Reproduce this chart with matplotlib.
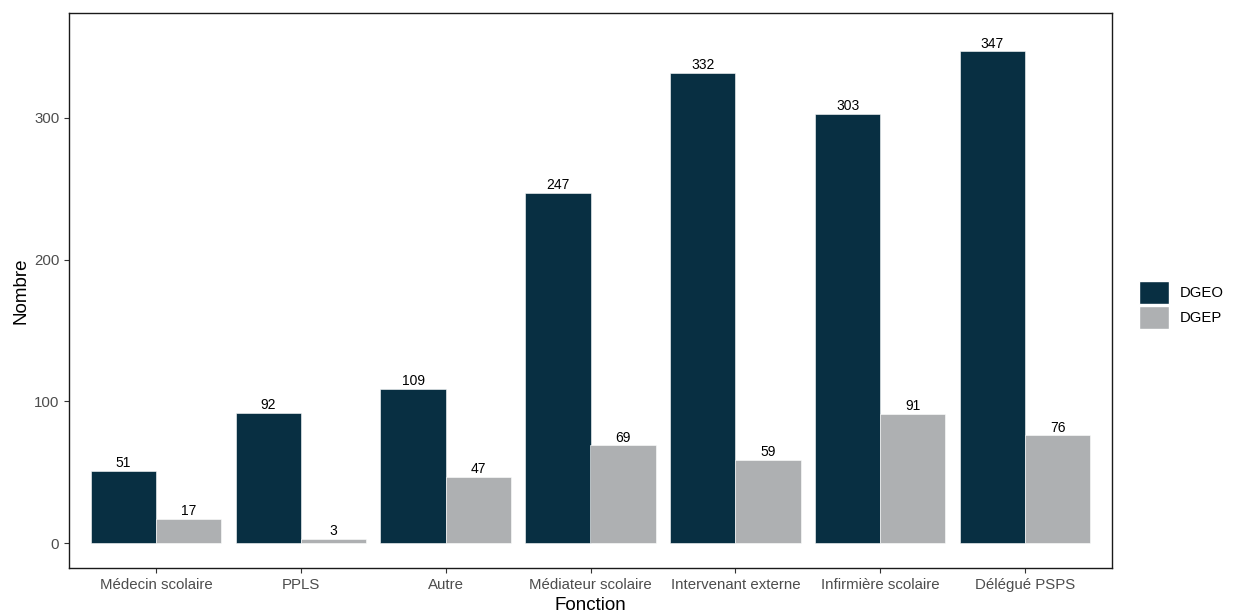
import matplotlib
matplotlib.use("Agg")
import matplotlib.pyplot as plt
import numpy as np
from matplotlib.patches import Patch

categories = ["Médecin scolaire", "PPLS", "Autre", "Médiateur scolaire",
              "Intervenant externe", "Infirmière scolaire", "Délégué PSPS"]
dgeo = [51, 92, 109, 247, 332, 303, 347]
dgep = [17, 3, 47, 69, 59, 91, 76]
series_names = ["DGEO", "DGEP"]
colors = ["#082F42", "#AEB0B2"]

plt.rcParams['font.family'] = ['Liberation Sans', 'DejaVu Sans']

fig = plt.figure(figsize=(12.37, 6.15), dpi=100)
ax = fig.add_axes([69/1237, 1-568/615, (1112-69)/1237, (568-13)/615])

x = np.arange(1, len(categories) + 1)
w = 0.45
for i, (vals, name, c) in enumerate(zip([dgeo, dgep], series_names, colors)):
    pos = x + (i - 0.5) * w
    ax.bar(pos, vals, width=w, color=c, edgecolor="white", linewidth=0.4, label=name)
    for p, v in zip(pos, vals):
        ax.text(p, v + 0.5, str(v), ha="center", va="bottom", fontsize=10, color="black")

ax.set_xlim(0.4, 7.6)
ax.set_ylim(-17.5, 374)
ax.set_xticks(x)
ax.set_xticklabels(categories)
ax.set_yticks([0, 100, 200, 300])
ax.tick_params(axis="both", colors="#333333", labelcolor="#4D4D4D", labelsize=10.8, length=3.5, width=0.8)
for s in ax.spines.values():
    s.set_color("#1A1A1A")
    s.set_linewidth(1.0)
ax.set_xlabel("Fonction", fontsize=13.5, labelpad=4)
ax.set_ylabel("Nombre", fontsize=13.5, labelpad=3)

handles = [Patch(facecolor=c, edgecolor="white", label=n) for c, n in zip(colors, series_names)]
fig.legend(handles=handles, loc="center left", bbox_to_anchor=(1126/1237, 1-305/615),
           frameon=False, fontsize=10.7, handlelength=2.0, handleheight=2.0,
           handletextpad=0.7, labelspacing=0.12)

fig.savefig("out.png", dpi=100)
